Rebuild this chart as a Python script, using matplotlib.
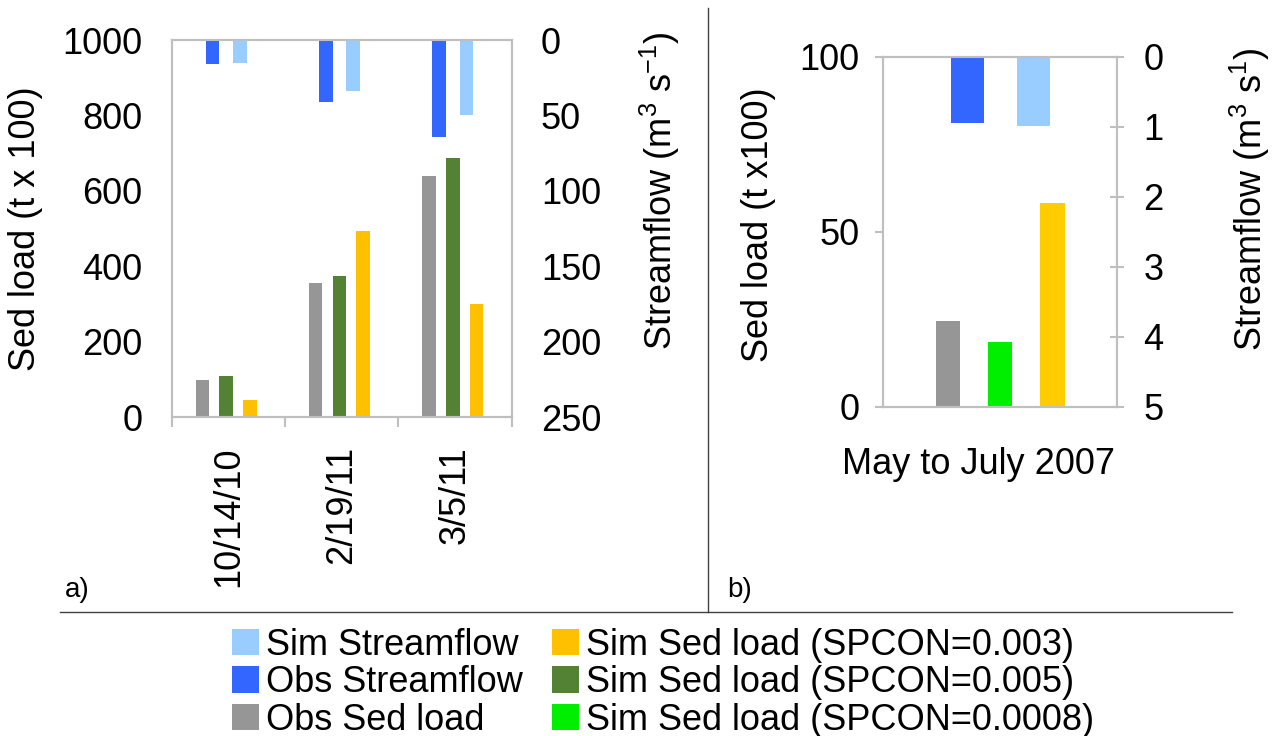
import numpy as np
import matplotlib.pyplot as plt
import matplotlib.transforms as mtransforms
from matplotlib.lines import Line2D

plt.rcParams['font.family'] = ['Liberation Sans', 'DejaVu Sans']
plt.rcParams['mathtext.fontset'] = 'custom'
plt.rcParams['mathtext.rm'] = 'Liberation Sans'
plt.rcParams['mathtext.it'] = 'Liberation Sans'

# panel a data
dates_a = ['10/14/10', '2/19/11', '3/5/11']
obs_sed_a = [99, 355, 640]
sim_sed_005_a = [108, 374, 687]
sim_sed_003_a = [44, 493, 301]
obs_flow_a = [16, 41, 64]
sim_flow_a = [15, 34, 50]

# panel b data
period_b = ['May to July 2007']
obs_sed_b = [24.5]
sim_sed_0008_b = [18.6]
sim_sed_003_b = [58.1]
obs_flow_b = [0.94]
sim_flow_b = [0.99]

c_sim_flow = '#99CCFF'
c_obs_flow = '#3366FF'
c_obs_sed = '#969696'
c_005 = '#548235'
c_003 = '#FFC000'
c_003b = '#FFCC00'
c_0008 = '#00EE00'
spine_c = '#BFBFBF'
fs = 26

fig = plt.figure(figsize=(12.72, 7.36), dpi=100)

def style(ax):
    for s in ax.spines.values():
        s.set_color(spine_c)
        s.set_linewidth(1.5)

# ---- panel a
ax = fig.add_axes([0.135, 0.4334, 0.2673, 0.5122])
x = np.arange(len(dates_a))
w = 0.12
ax.bar(x - 0.23, obs_sed_a, w, color=c_obs_sed, label='Obs Sed load')
ax.bar(x - 0.02, sim_sed_005_a, w, color=c_005, label='Sim Sed load (SPCON=0.005)')
ax.bar(x + 0.19, sim_sed_003_a, w, color=c_003, label='Sim Sed load (SPCON=0.003)')
ax.set_xlim(-0.5, 2.5)
ax.set_ylim(0, 1000)
ax.set_yticks([0, 200, 400, 600, 800, 1000])
ax.tick_params(axis='y', length=0, pad=21, labelsize=fs)
ax.set_xticks(x)
ax.set_xticklabels(dates_a, rotation=90, fontsize=fs)
ax.set_xticks([-0.5, 0.5, 1.5, 2.5], minor=True)
ax.tick_params(axis='x', which='major', length=0, pad=21)
ax.tick_params(axis='x', which='minor', length=7, width=1.5, color=spine_c)
ax.set_ylabel('Sed load (t x 100)', fontsize=fs, va='center')
ax.yaxis.set_label_coords(-0.43, 0.5)
style(ax)

ax2 = ax.twinx()
ax2.bar(x - 0.14, obs_flow_a, w, color=c_obs_flow, label='Obs Streamflow')
ax2.bar(x + 0.10, sim_flow_a, w, color=c_sim_flow, label='Sim Streamflow')
ax2.set_ylim(250, 0)
ax2.set_yticks([0, 50, 100, 150, 200, 250])
ax2.tick_params(axis='y', length=0, pad=21, labelsize=fs)
ax2.set_ylabel('Streamflow (m$^3$ s$^{-1}$)', fontsize=fs, va='center')
ax2.yaxis.set_label_coords(1.436, 0.6)
style(ax2)

# ---- panel b
bx = fig.add_axes([0.6942, 0.4474, 0.184, 0.4755])
xb = np.arange(len(period_b))
bx.bar(xb - 0.221, obs_sed_b, 0.103, color=c_obs_sed)
b0008 = bx.bar(xb + 0.001, sim_sed_0008_b, 0.103, color=c_0008, label='Sim Sed load (SPCON=0.0008)')
bx.bar(xb + 0.224, sim_sed_003_b, 0.103, color=c_003b)
bx.set_xlim(-0.5, 0.5)
bx.set_ylim(0, 100)
bx.set_yticks([0, 50, 100])
bx.tick_params(axis='y', length=6, width=1.5, color=spine_c, pad=11, labelsize=fs)
bx.set_xticks(xb)
bx.set_xticklabels(period_b, fontsize=fs)
bx.tick_params(axis='x', length=0, pad=29)
shift = mtransforms.ScaledTranslation(-22 / 100, 0, fig.dpi_scale_trans)
for lab in bx.get_xticklabels():
    lab.set_transform(lab.get_transform() + shift)
bx.set_ylabel('Sed load (t x100)', fontsize=fs, va='center')
bx.yaxis.set_label_coords(-0.534, 0.52)
style(bx)

bx2 = bx.twinx()
bx2.bar(xb - 0.139, obs_flow_b, 0.143, color=c_obs_flow)
bx2.bar(xb + 0.143, sim_flow_b, 0.143, color=c_sim_flow)
bx2.set_ylim(5, 0)
bx2.set_yticks([0, 1, 2, 3, 4, 5])
bx2.tick_params(axis='y', direction='inout', length=10, width=1.5, color=spine_c, pad=14, labelsize=fs)
bx2.set_ylabel('Streamflow (m$^3$ s$^1$)', fontsize=fs, va='center')
bx2.yaxis.set_label_coords(1.568, 0.593)
style(bx2)

# ---- separators and panel tags
fig.add_artist(Line2D([0.5566, 0.5566], [0.168, 0.989], color='#404040', lw=1))
fig.add_artist(Line2D([0.047, 0.9686], [0.1685, 0.1685], color='#404040', lw=1))
fig.text(0.051, 0.189, 'a)', fontsize=20)
fig.text(0.5715, 0.189, 'b)', fontsize=20)

# ---- legend
h1, l1 = ax.get_legend_handles_labels()
h2, l2 = ax2.get_legend_handles_labels()
hd = dict(zip(l1 + l2, h1 + h2))
order = ['Sim Streamflow', 'Obs Streamflow', 'Obs Sed load',
         'Sim Sed load (SPCON=0.003)', 'Sim Sed load (SPCON=0.005)']
handles = [hd[k] for k in order] + [b0008]
labels = order + ['Sim Sed load (SPCON=0.0008)']
fig.legend(handles, labels, ncol=2, loc='upper left', bbox_to_anchor=(0.1824, 0.1474),
           frameon=False, fontsize=26, handlelength=0.75, handleheight=0.75,
           handletextpad=0.2, labelspacing=0.07, columnspacing=0.8, borderpad=0,
           borderaxespad=0)

fig.savefig('out.png', dpi=100)
